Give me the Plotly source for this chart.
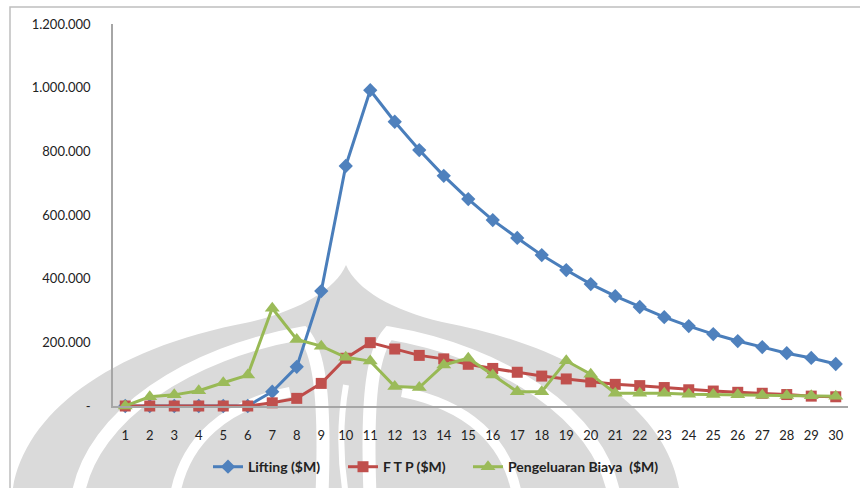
import plotly.graph_objects as go

years = list(range(1, 31))
lifting = [0, 0, 0, 0, 0, 0, 45000, 123000, 361000, 754000, 992000, 893000, 804000, 723000, 650000,
           584000, 528000, 474000, 427000, 383000, 345000, 311000, 279000, 251000, 226000, 204000,
           185000, 166000, 151000, 132000]
ftp = [0, 0, 0, 0, 0, 0, 10000, 24000, 71000, 150000, 199000, 179000, 159000, 148000, 131000,
       118000, 106000, 94000, 85000, 76000, 68000, 64000, 58000, 51000, 47000, 43000, 40000,
       36000, 31000, 29000]
biaya = [0, 29000, 35000, 48000, 73000, 97000, 307000, 209000, 188000, 153000, 141000, 61000,
         58000, 129000, 150000, 97000, 45000, 45000, 142000, 100000, 40000, 40000, 40000, 37000,
         36000, 35000, 34000, 33000, 32000, 31000]
series_names = ["Lifting ($M)", "F T P ($M)", "Pengeluaran Biaya  ($M)"]
y_tickvals = [0, 200000, 400000, 600000, 800000, 1000000, 1200000]
y_ticktext = ["-", "200.000", "400.000", "600.000", "800.000", "1.000.000", "1.200.000"]

FONT = "Lato, 'Open Sans', sans-serif"

# ---- decorative background watermark (page pixel coordinates -> paper coords) ----
L, T, W, H = 113, 24, 735, 382


def P(cmds):
    out = []
    for c in cmds:
        if isinstance(c, str):
            out.append(c)
        else:
            px, py = c
            out.append(f"{(px - L) / W:.5f},{(T + H - py) / H:.5f}")
    return " ".join(out)


def mirror(pts, cx=346):
    return [c if isinstance(c, str) else (2 * cx - c[0], c[1]) for c in pts]


GRAY = "#DADADA"
dome = ["M", (12, 495), "C", (20, 420), (100, 350), (250, 322), "C", (300, 310), (335, 290), (346, 265),
        "C", (357, 290), (392, 310), (442, 322), "C", (592, 350), (672, 420), (680, 495), "Z"]
band_left = ["M", (78, 495), "C", (92, 415), (190, 352), (303, 333), "C", (318, 350), (326, 390), (322, 495)]
band_right = mirror(band_left)
inner_left = ["M", (175, 495), "C", (185, 440), (225, 405), (290, 392)]
inner_right = mirror(inner_left)
slit = ["M", (346, 385), "C", (340, 420), (340, 460), (346, 495)]


def wm(path, fill=None, stroke=None, width=0):
    return dict(type="path", xref="paper", yref="paper", path=P(path),
                fillcolor=fill or "rgba(0,0,0,0)",
                line=dict(color=stroke or "rgba(0,0,0,0)", width=width), layer="below")


wm_shapes = [
    wm(dome, fill=GRAY),
    wm(band_left, stroke="white", width=13),
    wm(band_right, stroke="white", width=13),
    wm(inner_left, stroke="white", width=10),
    wm(inner_right, stroke="white", width=10),
    wm(slit, stroke="white", width=6),
]

fig = go.Figure()
fig.add_trace(go.Scatter(
    x=years, y=lifting, name=series_names[0], mode="lines+markers", cliponaxis=False,
    line=dict(color="#4A7EBB", width=3), legend="legend",
    marker=dict(symbol="diamond", size=11, color="#4F81BD", line=dict(width=0)),
))
fig.add_trace(go.Scatter(
    x=years, y=ftp, name=series_names[1], mode="lines+markers", cliponaxis=False,
    line=dict(color="#BE4B48", width=3), legend="legend2",
    marker=dict(symbol="square", size=11, color="#C0504D", line=dict(width=0)),
))
fig.add_trace(go.Scatter(
    x=years, y=biaya, name=series_names[2], mode="lines+markers", cliponaxis=False,
    line=dict(color="#98B954", width=3), legend="legend3",
    marker=dict(symbol="triangle-up", size=13, color="#9BBB59", line=dict(width=0)),
))


def leg(start_px):
    return dict(orientation="h", x=(start_px - 7 - L) / W, xanchor="left", y=-0.16, yanchor="middle",
                font=dict(family=FONT, size=14, color="#222222", weight=700),
                itemwidth=30, bgcolor="rgba(0,0,0,0)")


fig.update_layout(
    width=860, height=488,
    margin=dict(l=113, r=12, t=24, b=82, autoexpand=False),
    paper_bgcolor="white", plot_bgcolor="rgba(0,0,0,0)",
    font=dict(family=FONT, size=13, color="#222222"),
    showlegend=True,
    legend=leg(215), legend2=leg(350), legend3=leg(475),
    xaxis=dict(
        type="linear", range=[0.5, 30.5], tickmode="array", tickvals=years,
        ticktext=[str(v) for v in years], automargin=False,
        showgrid=False, zeroline=False, showline=True, linecolor="#A6A6A6", linewidth=1.5,
        ticks="", ticklabelstandoff=17, tickfont=dict(size=13),
    ),
    yaxis=dict(
        range=[0, 1200000], tickmode="array", tickvals=y_tickvals, ticktext=y_ticktext,
        automargin=False,
        showgrid=False, zeroline=False, showline=True, linecolor="#A6A6A6", linewidth=1.5,
        ticks="", ticklabelstandoff=18, tickfont=dict(size=13),
    ),
    shapes=wm_shapes + [
        dict(type="rect", xref="paper", yref="paper", x0=-103 / 735, x1=1.2, y0=-0.5, y1=1 + 17 / 382,
             line=dict(color="#BFBFBF", width=1.5), fillcolor="rgba(0,0,0,0)", layer="below"),
    ],
)

fig.write_html("out.html")
